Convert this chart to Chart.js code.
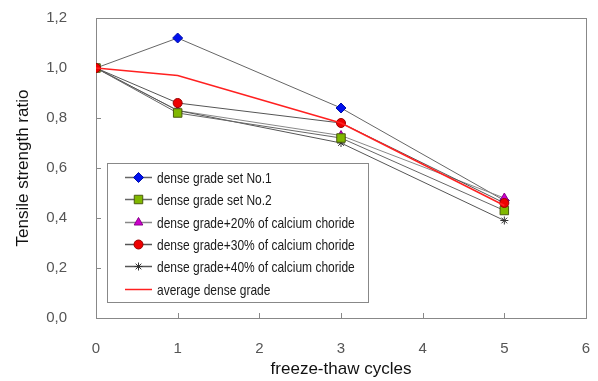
<!DOCTYPE html>
<html>
<head>
<meta charset="utf-8">
<script src="https://cdn.jsdelivr.net/npm/chart.js@4/dist/chart.umd.min.js"></script>
<style>
  html, body { margin: 0; padding: 0; background: #fff; }
  #wrap { width: 598px; height: 381px; }
</style>
</head>
<body>
<div id="wrap"><canvas id="c"></canvas></div>
<script>
// ── Data ──
const cycles = [0, 1, 3, 5];
const setNo1 = [1.00, 1.12, 0.84, 0.47];
const setNo2 = [1.00, 0.82, 0.72, 0.43];
const calc20 = [1.00, 0.83, 0.73, 0.48];
const calc30 = [1.00, 0.86, 0.78, 0.46];
const calc40 = [1.00, 0.83, 0.70, 0.39];
const average = [1.00, 0.97, 0.78, 0.45];
const xTicks = [0, 1, 2, 3, 4, 5, 6];
const yTicks = [0, 0.2, 0.4, 0.6, 0.8, 1.0, 1.2];

const pts = arr => cycles.map((c, i) => ({ x: c, y: arr[i] }));
const FONT = "'Liberation Sans', Arial, sans-serif";

// z: lower = drawn on top
const series = [
    { label: 'dense grade set No.1', data: setNo1, style: 'rectRot', r: 5, fill: '#0010ee', stroke: '#0010aa', line: '#666', z: 5 },
    { label: 'dense grade set No.2', data: setNo2, style: 'rect', r: 6, fill: '#80b800', stroke: '#4a5a10', line: '#666', z: 2 },
    { label: 'dense grade+20% of calcium choride', data: calc20, style: 'triangle', r: 5, fill: '#cc00cc', stroke: '#880088', line: '#888', z: 4 },
    { label: 'dense grade+30% of calcium choride', data: calc30, style: 'circle', r: 4.5, fill: '#ee0000', stroke: '#990000', line: '#555', z: 1 },
    { label: 'dense grade+40% of calcium choride', data: calc40, style: 'star', r: 4, fill: '#333', stroke: '#333', line: '#555', z: 3 },
    { label: 'average dense grade', data: average, style: false, r: 0, fill: '#ff2020', stroke: '#ff2020', line: '#ff2020', z: 0 }
];

// ── Frame, inward ticks and legend box ──
const framePlugin = {
    id: 'frame',
    beforeDatasetsDraw(chart) {
        const { ctx, chartArea: a, scales } = chart;
        ctx.save();
        ctx.strokeStyle = '#888';
        ctx.lineWidth = 1;
        ctx.strokeRect(a.left + 0.5, a.top + 0.5, a.right - a.left, a.bottom - a.top);
        ctx.beginPath();
        xTicks.forEach(v => {
            const x = Math.round(scales.x.getPixelForValue(v)) + 0.5;
            ctx.moveTo(x, a.bottom); ctx.lineTo(x, a.bottom - 5);
        });
        yTicks.forEach(v => {
            const y = Math.round(scales.y.getPixelForValue(v)) + 0.5;
            ctx.moveTo(a.left, y); ctx.lineTo(a.left + 5, y);
        });
        ctx.stroke();
        ctx.restore();
    }
};

function marker(ctx, s, x, y) {
    const H = Chart.helpers;
    if (H && H.drawPoint) {
        H.drawPoint(ctx, { pointStyle: s.style, radius: s.r, borderWidth: 1, rotation: 0 }, x, y);
    } else {
        ctx.beginPath(); ctx.arc(x, y, s.r, 0, Math.PI * 2); ctx.fill(); ctx.stroke();
    }
}

const legendPlugin = {
    id: 'boxLegend',
    afterDatasetsDraw(chart) {
        const ctx = chart.ctx;
        const bx = 107, by = 163, bw = 261, bh = 139;
        ctx.save();
        ctx.fillStyle = '#fff';
        ctx.fillRect(bx, by, bw, bh);
        ctx.strokeStyle = '#888';
        ctx.lineWidth = 1;
        ctx.strokeRect(bx + 0.5, by + 0.5, bw, bh);
        series.forEach((s, i) => {
            const y = Math.round(177 + i * 22.3) + 0.5;
            ctx.strokeStyle = s.line;
            ctx.lineWidth = 1.5;
            ctx.beginPath(); ctx.moveTo(125, y); ctx.lineTo(152, y); ctx.stroke();
            if (s.style) {
                ctx.fillStyle = s.fill; ctx.strokeStyle = s.stroke; ctx.lineWidth = 1;
                marker(ctx, s, 138.5, y);
            }
            ctx.save();
            ctx.translate(157, y);
            ctx.scale(0.8, 1);
            ctx.fillStyle = '#1a1a1a';
            ctx.font = '15px ' + FONT;
            ctx.textBaseline = 'middle';
            ctx.fillText(s.label, 0, 1);
            ctx.restore();
        });
        ctx.restore();
    }
};

// ── Build Chart ──
const ctx = document.getElementById('c').getContext('2d');
const chart = new Chart(ctx, {
    type: 'line',
    data: {
        datasets: series.map(s => ({
            label: s.label,
            data: pts(s.data),
            order: s.z,
            borderColor: s.line,
            borderWidth: s.style ? 1 : 1.5,
            pointStyle: s.style,
            pointRadius: s.r,
            pointBackgroundColor: s.fill,
            pointBorderColor: s.stroke,
            pointBorderWidth: 1,
            tension: 0,
            fill: false
        }))
    },
    options: {
        responsive: true,
        maintainAspectRatio: false,
        animation: false,
        layout: { padding: { left: 0, right: 12, top: 18, bottom: 0 } },
        plugins: { legend: { display: false }, tooltip: { enabled: false } },
        scales: {
            x: {
                type: 'linear',
                min: 0, max: 6,
                afterFit: s => { s.height = 63; s.paddingLeft = 0; s.paddingRight = 0; },
                afterBuildTicks: s => { s.ticks = xTicks.map(v => ({ value: v })); },
                ticks: { padding: 14, color: '#555', font: { family: FONT, size: 15 } },
                grid: { display: false },
                border: { display: false },
                title: { display: true, text: 'freeze-thaw cycles', color: '#111', font: { family: FONT, size: 17 }, padding: { top: 0, bottom: 1 } }
            },
            y: {
                min: 0, max: 1.2,
                afterFit: s => { s.width = 96; s.paddingTop = 0; s.paddingBottom = 0; },
                afterBuildTicks: s => { s.ticks = yTicks.map(v => ({ value: v })); },
                ticks: {
                    padding: 21, color: '#555', font: { family: FONT, size: 15 },
                    callback: v => v.toFixed(1).replace('.', ',')
                },
                grid: { display: false },
                border: { display: false },
                title: { display: true, text: 'Tensile strength ratio', color: '#111', font: { family: FONT, size: 17 }, padding: { top: 13, bottom: 0 } }
            }
        }
    },
    plugins: [framePlugin, legendPlugin]
});
</script>
</body>
</html>
